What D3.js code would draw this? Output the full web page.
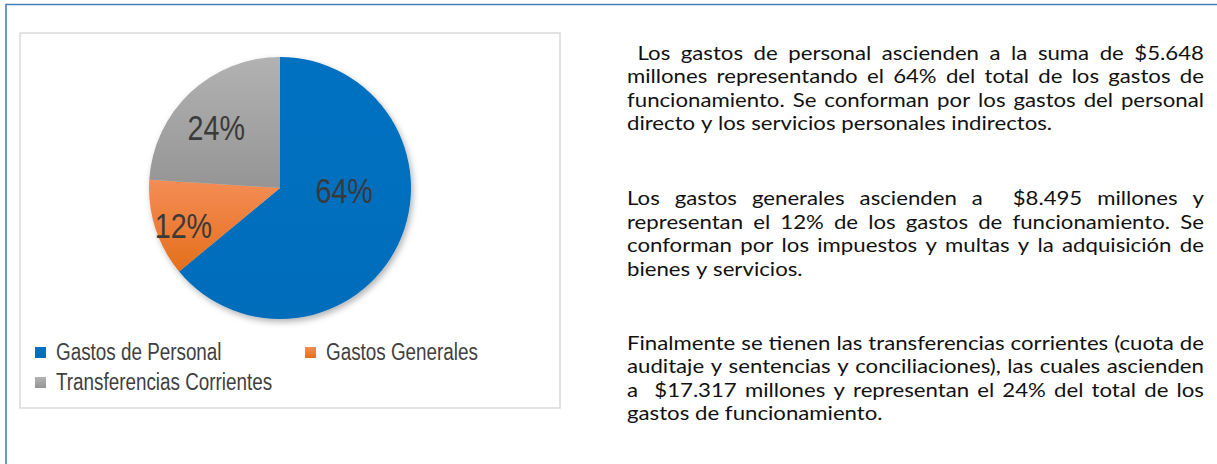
<!DOCTYPE html>
<html><head><meta charset="utf-8">
<script src="https://cdn.jsdelivr.net/npm/d3@7"></script>
<style>html,body{margin:0;padding:0;background:#fff;overflow:hidden}</style>
</head><body>
<svg id="c" width="1217" height="464"></svg>
<script>
// Distribución de los gastos de funcionamiento
const categories = ["Gastos de Personal", "Gastos Generales", "Transferencias Corrientes"];
const shares = [64, 12, 24];
const shareLabels = ["64%", "12%", "24%"];

const paragraphs = [
  [" Los gastos de personal ascienden a la suma de $5.648",
   "millones representando el 64% del total de los gastos de",
   "funcionamiento. Se conforman por los gastos del personal",
   "directo y los servicios personales indirectos."],
  ["Los gastos generales ascienden a  $8.495 millones y",
   "representan el 12% de los gastos de funcionamiento. Se",
   "conforman por los impuestos y multas y la adquisición de",
   "bienes y servicios."],
  ["Finalmente se tienen las transferencias corrientes (cuota de",
   "auditaje y sentencias y conciliaciones), las cuales ascienden",
   "a  $17.317 millones y representan el 24% del total de los",
   "gastos de funcionamiento."]
];

// slice fills: [top, bottom] of a vertical gradient
const fills = [["#0071C1", "#006DBB"], ["#F48D55", "#E46F1C"], ["#B2B2B2", "#959595"]];
// label placement inside each slice: fraction along the slice angle, fraction of radius
const labelAngleFrac = [0.40, 0.43, 0.46];
const labelRadiusFrac = [0.49, 0.79, 0.67];

const svg = d3.select("#c");
const defs = svg.append("defs");

fills.forEach((f, i) => {
  const g = defs.append("linearGradient").attr("id", "g" + i)
    .attr("x1", 0).attr("y1", 0).attr("x2", 0).attr("y2", 1);
  g.append("stop").attr("offset", 0).attr("stop-color", f[0]);
  g.append("stop").attr("offset", 1).attr("stop-color", f[1]);
});
const sh = defs.append("filter").attr("id", "shadow")
  .attr("x", -0.2).attr("y", -0.2).attr("width", 1.4).attr("height", 1.4);
sh.append("feDropShadow").attr("dx", 2).attr("dy", 3).attr("stdDeviation", 3)
  .attr("flood-color", "#000").attr("flood-opacity", 0.3);

// outer frame of the page block
svg.append("path").attr("d", "M6,464 V4.5 H1217")
  .attr("fill", "none").attr("stroke", "#4A7EBB").attr("stroke-width", 1.6);

// chart area
svg.append("rect").attr("x", 20).attr("y", 33).attr("width", 540).attr("height", 375)
  .attr("fill", "#fff").attr("stroke", "#D9D9D9").attr("stroke-width", 1.5);

const cx = 280, cy = 188, R = 131;
const pie = d3.pie().sort(null).value(d => d);
const arcs = pie(shares);
const arc = d3.arc().innerRadius(0).outerRadius(R);

const gp = svg.append("g").attr("transform", `translate(${cx},${cy})`);
gp.append("g").attr("filter", "url(#shadow)")
  .selectAll("path").data(arcs).join("path")
  .attr("d", arc)
  .attr("fill", (d, i) => `url(#g${i})`);

const narrow = 0.82;
gp.selectAll("text.lbl").data(arcs).join("text")
  .attr("class", "lbl")
  .attr("transform", (d, i) => {
    const a = d.startAngle + labelAngleFrac[i] * (d.endAngle - d.startAngle);
    const r = labelRadiusFrac[i] * R;
    const x = Math.sin(a) * r, y = -Math.cos(a) * r;
    return `translate(${x},${y}) scale(${narrow},1)`;
  })
  .attr("text-anchor", "middle").attr("dy", "0.36em")
  .attr("font-family", "'Liberation Sans', Arial, sans-serif")
  .attr("font-size", 35).attr("fill", "#3A3A3A")
  .text((d, i) => shareLabels[i]);

// legend
const legendPos = [[35, 347], [305, 347], [35, 377]];
const lg = svg.append("g").selectAll("g").data(categories).join("g")
  .attr("transform", (d, i) => `translate(${legendPos[i][0]},${legendPos[i][1]})`);
lg.append("rect").attr("width", 11).attr("height", 11)
  .attr("fill", (d, i) => `url(#g${i})`);
lg.append("text")
  .attr("transform", `translate(21,13) scale(${narrow},1)`)
  .attr("font-family", "'Liberation Sans', Arial, sans-serif")
  .attr("font-size", 23).attr("fill", "#404040")
  .text(d => d);

// justified body text
const xL = 627, xR = 1204, lineGap = 23.6;
const firstBaselines = [59.5, 205, 349.5];
const fontFam = "Lato, 'Open Sans', sans-serif";
const fs = 18.5;
const probe = svg.append("text").attr("font-family", fontFam).attr("font-size", fs);
const measure = s => { probe.text(s); return probe.node().getComputedTextLength(); };
// horizontal stretch so the unjustified closing line spans its set width
const sx = 424 / measure(paragraphs[0][3]);
const spaceW = (measure("a a") - measure("aa")) * sx;

const body = svg.append("g").attr("font-family", fontFam).attr("font-size", fs).attr("fill", "#111");
paragraphs.forEach((lines, p) => {
  lines.forEach((line, li) => {
    const y = firstBaselines[p] + li * lineGap;
    const t = body.append("text").attr("transform", `translate(0,${y}) scale(${sx},1)`);
    const tokens = line.split(" ");
    const widths = tokens.map(w => w ? measure(w) * sx : 0);
    const gaps = tokens.length - 1;
    const last = li === lines.length - 1;
    let gapW = spaceW;
    if (!last && gaps > 0) gapW = (xR - xL - d3.sum(widths)) / gaps;
    let x = xL;
    tokens.forEach((w, k) => {
      if (w) t.append("tspan").attr("x", x / sx).attr("y", 0).text(w);
      x += widths[k] + gapW;
    });
  });
});
probe.remove();
</script>
</body></html>
